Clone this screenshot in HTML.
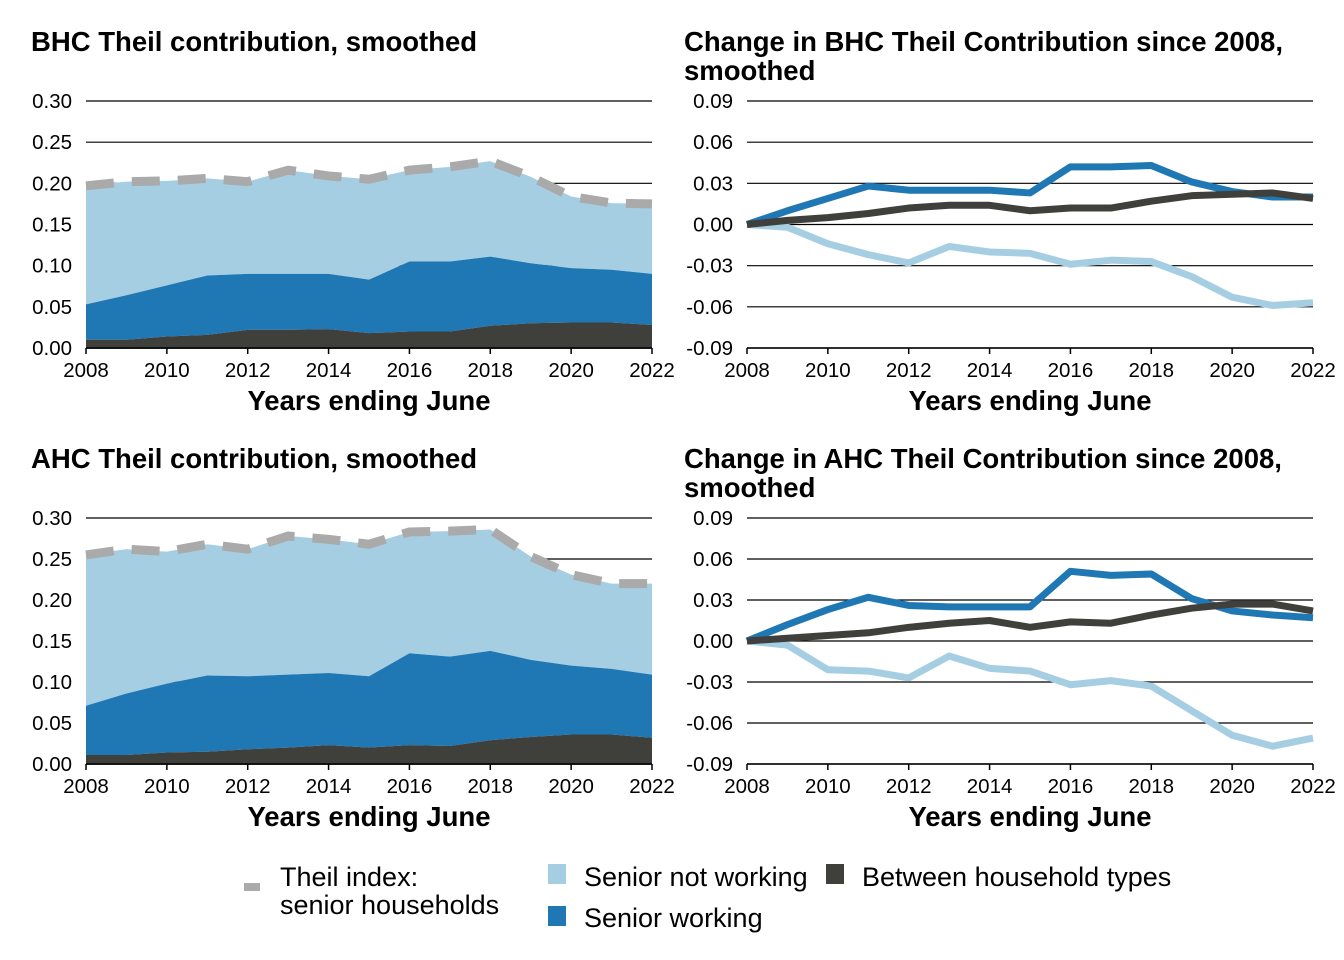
<!DOCTYPE html>
<html><head><meta charset="utf-8">
<style>
body{margin:0;background:#fff;width:1344px;height:960px;overflow:hidden;font-family:"Liberation Sans",Arial,sans-serif;}
svg{position:absolute;left:0;top:0}
</style></head>
<body>
<svg id="chart" width="1344" height="960"></svg>
<script>
const years=[2008,2009,2010,2011,2012,2013,2014,2015,2016,2017,2018,2019,2020,2021,2022];
const xTickLabels=["2008","2010","2012","2014","2016","2018","2020","2022"];
const leftTicks=[0,0.05,0.10,0.15,0.20,0.25,0.30];
const rightTicks=[-0.09,-0.06,-0.03,0,0.03,0.06,0.09];
// BHC levels (cumulative tops)
const bhcBetween=[0.010,0.010,0.014,0.016,0.022,0.022,0.023,0.018,0.020,0.020,0.027,0.030,0.031,0.031,0.028];
const bhcWorkingTop=[0.053,0.064,0.076,0.088,0.090,0.090,0.090,0.083,0.105,0.105,0.111,0.103,0.097,0.095,0.090];
const bhcTotal=[0.197,0.202,0.203,0.206,0.202,0.216,0.209,0.205,0.216,0.220,0.227,0.208,0.184,0.176,0.175];
// AHC levels
const ahcBetween=[0.011,0.011,0.014,0.015,0.018,0.020,0.023,0.020,0.023,0.022,0.029,0.033,0.036,0.036,0.032];
const ahcWorkingTop=[0.071,0.086,0.098,0.108,0.107,0.109,0.111,0.107,0.135,0.131,0.138,0.127,0.120,0.116,0.109];
const ahcTotal=[0.255,0.262,0.259,0.268,0.262,0.278,0.274,0.268,0.283,0.284,0.286,0.253,0.231,0.220,0.220];
// BHC changes
const bhcChWorking=[0,0.010,0.019,0.028,0.025,0.025,0.025,0.023,0.042,0.042,0.043,0.031,0.024,0.020,0.020];
const bhcChBetween=[0,0.003,0.005,0.008,0.012,0.014,0.014,0.010,0.012,0.012,0.017,0.021,0.022,0.023,0.019];
const bhcChNotWorking=[0,-0.002,-0.014,-0.022,-0.028,-0.016,-0.020,-0.021,-0.029,-0.026,-0.027,-0.038,-0.053,-0.059,-0.057];
// AHC changes
const ahcChWorking=[0,0.012,0.023,0.032,0.026,0.025,0.025,0.025,0.051,0.048,0.049,0.031,0.022,0.019,0.017];
const ahcChBetween=[0,0.002,0.004,0.006,0.010,0.013,0.015,0.010,0.014,0.013,0.019,0.024,0.027,0.027,0.022];
const ahcChNotWorking=[0,-0.003,-0.021,-0.022,-0.027,-0.011,-0.020,-0.022,-0.032,-0.029,-0.033,-0.051,-0.069,-0.077,-0.071];

const C_LIGHT="#a6cee3",C_MID="#1f78b4",C_DARK="#3f3f3b",C_GREY="#aaaaaa";
const NS="http://www.w3.org/2000/svg";
const svg=document.getElementById('chart');
function mk(tag,attrs,parent){const e=document.createElementNS(NS,tag);for(const k in attrs)e.setAttribute(k,attrs[k]);(parent||svg).appendChild(e);return e;}
function txt(s,attrs,parent){const e=mk('text',attrs,parent);e.textContent=s;return e;}

function panel(name,x0,x1,yTop,yBot,ymin,ymax,ticks,fmt,titleLines){
  const g=mk('g',{});
  
  
  const X=y=>x0+(y-2008)/(2022-2008)*(x1-x0);
  const Y=v=>yBot-(v-ymin)/(ymax-ymin)*(yBot-yTop);
  titleLines.forEach((t,i)=>{const e=txt(t,{x:x0>700?684:31,y:(yTop-50)+i*29,'font-size':27.5,'font-weight':'bold',fill:'#000'},g);
    });
  ticks.forEach(v=>{
    const l=mk('line',{x1:x0,x2:x1,y1:Y(v),y2:Y(v),stroke:'#000','stroke-width':1.2},g);
    
    const t=txt(fmt(v),{x:x0-14,y:Y(v)+7,'text-anchor':'end','font-size':20.5,fill:'#000'},g);
    
  });
  const ax=mk('line',{x1:x0,x2:x1,y1:yBot,y2:yBot,stroke:'#000','stroke-width':1.5},g);
  
  xTickLabels.forEach(s=>{const yr=+s;
    const tk=mk('line',{x1:X(yr),x2:X(yr),y1:yBot,y2:yBot+6,stroke:'#000','stroke-width':1.5},g);
    
    const t=txt(s,{x:X(yr),y:yBot+29,'text-anchor':'middle','font-size':20.5,fill:'#000'},g);
    });
  const at=txt('Years ending June',{x:(x0+x1)/2,y:yBot+62,'text-anchor':'middle','font-size':27.5,'font-weight':'bold',fill:'#000'},g);
  
  return {g,X,Y};
}
function area(p,top,bottom,color,name){
  let d='M'+years.map((y,i)=>p.X(y)+','+p.Y(top[i])).join('L');
  for(let i=years.length-1;i>=0;i--)d+='L'+p.X(years[i])+','+p.Y(bottom?bottom[i]:0);
  const e=mk('path',{d:d+'Z',fill:color},p.g);
  
}
function line(p,vals,color,name,dash,w){
  const a={d:'M'+years.map((y,i)=>p.X(y)+','+p.Y(vals[i])).join('L'),fill:'none',stroke:color,'stroke-width':w||7,'stroke-linejoin':'round'};
  if(dash)a['stroke-dasharray']=dash;
  const e=mk('path',a,p.g);
  
}
const f2=v=>v.toFixed(2);
function levelPanel(name,yTop,yBot,title,betw,work,tot){
  const p=panel(name,86,652,yTop,yBot,0,0.30,leftTicks,f2,[title]);
  area(p,tot,work,C_LIGHT,'area-senior-not-working');
  area(p,work,betw,C_MID,'area-senior-working');
  area(p,betw,null,C_DARK,'area-between-household-types');
  line(p,tot,C_GREY,'line-theil-index','28,18',9);
  const ax=mk('line',{x1:86,x2:652,y1:yBot,y2:yBot,stroke:'#000','stroke-width':1.5},p.g);
  
}
function changePanel(name,yTop,yBot,titles,w,b,n){
  const p=panel(name,747,1313,yTop,yBot,-0.09,0.09,rightTicks,f2,titles);
  line(p,n,C_LIGHT,'line-senior-not-working');
  line(p,w,C_MID,'line-senior-working');
  line(p,b,C_DARK,'line-between-household-types');
}
levelPanel('bhc-level-panel',101,348,'BHC Theil contribution, smoothed',bhcBetween,bhcWorkingTop,bhcTotal);
levelPanel('ahc-level-panel',518,764,'AHC Theil contribution, smoothed',ahcBetween,ahcWorkingTop,ahcTotal);
changePanel('bhc-change-panel',101,348,['Change in BHC Theil Contribution since 2008,','smoothed'],bhcChWorking,bhcChBetween,bhcChNotWorking);
changePanel('ahc-change-panel',518,764,['Change in AHC Theil Contribution since 2008,','smoothed'],ahcChWorking,ahcChBetween,ahcChNotWorking);

// legend
const lg=mk('g',{});


function entry(name,sw,lines,tx,ty){
  const g=mk('g',{},lg);
  
  
  sw(g);
  lines.forEach((s,i)=>txt(s,{x:tx,y:ty+i*28,'font-size':27,fill:'#000'},g));
}
entry('legend-entry-theil-index',g=>mk('rect',{x:244,y:883,width:16,height:8,fill:C_GREY},g),['Theil index:','senior households'],280,886);
entry('legend-entry-senior-not-working',g=>mk('rect',{x:548,y:864,width:18,height:20,fill:C_LIGHT},g),['Senior not working'],584,886);
entry('legend-entry-between-household-types',g=>mk('rect',{x:826,y:864,width:18,height:20,fill:C_DARK},g),['Between household types'],862,886);
entry('legend-entry-senior-working',g=>mk('rect',{x:548,y:906,width:18,height:20,fill:C_MID},g),['Senior working'],584,927);
</script>
</body></html>
